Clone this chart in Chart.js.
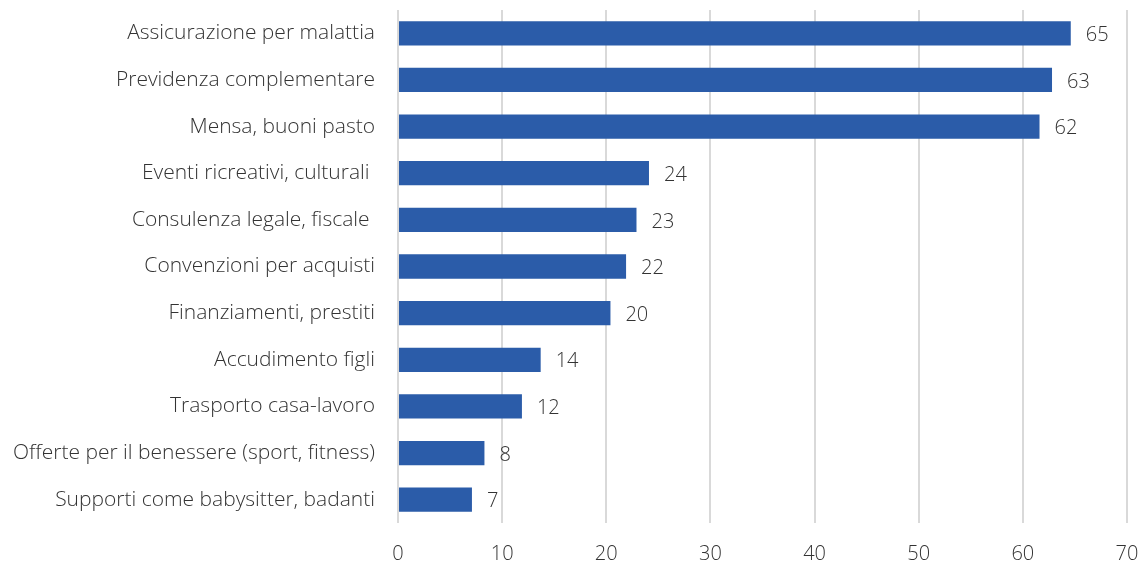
<!DOCTYPE html>
<html>
<head>
<meta charset="utf-8">
<script src="https://cdn.jsdelivr.net/npm/chart.js@4"></script>
<style>
  html, body { margin: 0; padding: 0; background: #fff; }
  #wrap { width: 1140px; height: 565px; }
</style>
</head>
<body>
<div id="wrap"><canvas id="chart"></canvas></div>
<script>
// categories and values
const categories = [
    'Assicurazione per malattia',
    'Previdenza complementare',
    'Mensa, buoni pasto',
    'Eventi ricreativi, culturali ',
    'Consulenza legale, fiscale ',
    'Convenzioni per acquisti',
    'Finanziamenti, prestiti',
    'Accudimento figli',
    'Trasporto casa-lavoro',
    'Offerte per il benessere (sport, fitness)',
    'Supporti come babysitter, badanti'
];
const values = [64.6, 62.8, 61.6, 24.1, 22.9, 21.9, 20.4, 13.7, 11.9, 8.3, 7.1];
const xTicks = [0, 10, 20, 30, 40, 50, 60, 70];

const FONT = '"Open Sans"';
const TEXT = '#333333';
const BAR = '#2b5ca9';

// draws the rounded value to the right of each bar
const valueLabels = {
    id: 'valueLabels',
    afterDatasetsDraw(chart) {
        const ctx = chart.ctx;
        const meta = chart.getDatasetMeta(0);
        ctx.save();
        ctx.font = '300 20px ' + FONT;
        ctx.fillStyle = TEXT;
        ctx.textAlign = 'left';
        ctx.textBaseline = 'middle';
        meta.data.forEach((bar, i) => {
            ctx.fillText(Math.round(values[i]), bar.x + 15, bar.y + 2);
        });
        ctx.restore();
    }
};

new Chart(document.getElementById('chart'), {
    type: 'bar',
    data: {
        labels: categories,
        datasets: [{
            data: values,
            backgroundColor: BAR,
            borderWidth: 0,
            barPercentage: 0.52,
            categoryPercentage: 1
        }]
    },
    options: {
        indexAxis: 'y',
        responsive: true,
        maintainAspectRatio: false,
        animation: false,
        layout: { padding: { top: 10, right: 13, bottom: 0, left: 0 } },
        plugins: {
            legend: { display: false },
            tooltip: { enabled: false }
        },
        scales: {
            x: {
                min: 0,
                max: 70,
                afterBuildTicks: (scale) => { scale.ticks = xTicks.map(v => ({ value: v })); },
                afterFit: (scale) => {
                    scale.height = 42;
                    scale.paddingLeft = 0;
                    scale.paddingRight = 0;
                },
                grid: { color: '#d9d9d9', lineWidth: 2, drawTicks: false },
                border: { display: false },
                ticks: {
                    padding: 19,
                    color: TEXT,
                    font: { family: FONT, size: 20, weight: '300' }
                }
            },
            y: {
                afterFit: (scale) => {
                    scale.width = 398;
                    scale.paddingTop = 0;
                    scale.paddingBottom = 0;
                },
                grid: { display: false },
                border: { display: false },
                ticks: {
                    padding: 15,
                    color: TEXT,
                    font: { family: FONT, size: 21, weight: '300' }
                }
            }
        }
    },
    plugins: [valueLabels]
});
</script>
</body>
</html>
